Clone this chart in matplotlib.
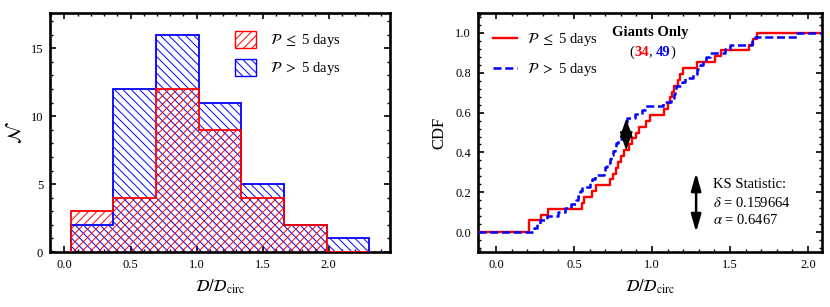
import numpy as np
import matplotlib
matplotlib.use("Agg")
import matplotlib.pyplot as plt
from matplotlib.patches import Patch
from matplotlib.lines import Line2D
from matplotlib.ticker import MultipleLocator, FormatStrFormatter

plt.rcParams['font.family'] = ['Liberation Serif', 'DejaVu Serif']
plt.rcParams['mathtext.fontset'] = 'stix'
plt.rcParams['hatch.linewidth'] = 0.7

# ---------------- data ----------------
bin_edges = [0.047, 0.370, 0.693, 1.016, 1.339, 1.662, 1.985, 2.308]
counts_short = [3, 4, 12, 9, 4, 2, 0]      # P <= 5 days (34)
counts_long = [2, 12, 16, 11, 5, 2, 1]     # P > 5 days (49)

cdf_short = [0.21, 0.21, 0.29, 0.335, 0.55, 0.565, 0.615, 0.64, 0.73, 0.75,
             0.77, 0.785, 0.80, 0.82, 0.85, 0.87, 0.90, 0.92, 0.96, 0.99,
             1.08, 1.10, 1.115, 1.13, 1.14, 1.165, 1.18, 1.20, 1.29, 1.405,
             1.44, 1.62, 1.65, 1.67]
cdf_long = [0.245, 0.26, 0.28, 0.325, 0.40, 0.44, 0.48, 0.51, 0.525, 0.54,
            0.55, 0.60, 0.615, 0.635, 0.69, 0.70, 0.715, 0.73, 0.74, 0.75,
            0.76, 0.77, 0.78, 0.81, 0.82, 0.83, 0.835, 0.84, 0.89, 0.935,
            0.955, 1.07, 1.125, 1.14, 1.15, 1.155, 1.19, 1.21, 1.265, 1.29,
            1.31, 1.33, 1.345, 1.37, 1.47, 1.50, 1.64, 1.66, 1.93]

label_short = r'$\mathcal{P}$ $\leq$ 5 days'
label_long = r'$\mathcal{P}$ $>$ 5 days'
n_short, n_long = 34, 49
ks_delta, ks_alpha = 0.159664, 0.6467
ks_x, ks_lo, ks_hi = 0.835, 0.41, 0.57
xlab = r'$\mathcal{D}/\mathcal{D}_{\mathrm{circ}}$'

red = (1, 0, 0)
blue = (0, 0, 1)
hatch_r = '////'
hatch_b = '\\\\\\\\'

fig = plt.figure(figsize=(8.3, 3.07), dpi=100)
ax1 = fig.add_axes([0.0602, 0.179, 0.4098, 0.7787])
ax2 = fig.add_axes([0.5759, 0.179, 0.4145, 0.7787])

def style(ax):
    for s in ax.spines.values():
        s.set_linewidth(1.9)
    ax.tick_params(which='both', direction='in', top=True, right=True,
                   labelsize=9, pad=5)
    ax.tick_params(which='major', length=4, width=1.2)
    ax.tick_params(which='minor', length=2, width=1.0)

# ---------------- histogram ----------------
ax1.stairs(counts_long, bin_edges, fill=True, facecolor='none',
           edgecolor=blue, hatch=hatch_b, linewidth=0, zorder=2)
ax1.stairs(counts_short, bin_edges, fill=True, facecolor='none',
           edgecolor=red, hatch=hatch_r, linewidth=0, zorder=2)
ax1.stairs(counts_long, bin_edges, color=blue, linewidth=1.3, zorder=3)
ax1.stairs(counts_short, bin_edges, color=red, linewidth=1.3, zorder=3)
ax1.set_xlim(-0.11, 2.466)
ax1.set_ylim(0, 17.6)
ax1.xaxis.set_major_locator(MultipleLocator(0.5))
ax1.xaxis.set_minor_locator(MultipleLocator(0.1))
ax1.yaxis.set_major_locator(MultipleLocator(5))
ax1.yaxis.set_minor_locator(MultipleLocator(1))
ax1.xaxis.set_major_formatter(FormatStrFormatter('%.1f'))
style(ax1)
ax1.set_xlabel(xlab, fontsize=12, labelpad=5)
ax1.set_ylabel(r'$\mathcal{N}$', fontsize=14, labelpad=4)

handles1 = [Patch(facecolor='none', edgecolor=red, hatch=hatch_r, linewidth=1.0),
            Patch(facecolor='none', edgecolor=blue, hatch=hatch_b, linewidth=1.0)]
ax1.legend(handles1, [label_short, label_long], loc='upper left',
           bbox_to_anchor=(0.544, 0.925), frameon=False, fontsize=10.5,
           borderaxespad=0, borderpad=0, handlelength=1.45, handleheight=1.4,
           labelspacing=0.65, handletextpad=0.95)

# ---------------- CDF ----------------
def ecdf_xy(vals, lo, hi):
    v = np.sort(np.asarray(vals, dtype=float))
    n = len(v)
    x = np.concatenate([[lo], v, [hi]])
    y = np.concatenate([[0.0], np.arange(1, n + 1) / n, [1.0]])
    return x, y

xr, yr = ecdf_xy(cdf_short, -0.115, 2.09)
xb, yb = ecdf_xy(cdf_long, -0.115, 2.09)
ax2.step(xr, yr, where='post', color=red, linewidth=1.7, zorder=3)
ax2.step(xb, yb, where='post', color=blue, linewidth=1.8,
         dashes=(3.2, 1.5), zorder=4)
ax2.set_xlim(-0.115, 2.09)
ax2.set_ylim(-0.1, 1.1)
ax2.xaxis.set_major_locator(MultipleLocator(0.5))
ax2.xaxis.set_minor_locator(MultipleLocator(0.1))
ax2.yaxis.set_major_locator(MultipleLocator(0.2))
ax2.yaxis.set_minor_locator(MultipleLocator(0.04))
ax2.xaxis.set_major_formatter(FormatStrFormatter('%.1f'))
ax2.yaxis.set_major_formatter(FormatStrFormatter('%.1f'))
style(ax2)
ax2.set_xlabel(xlab, fontsize=12, labelpad=5)
ax2.set_ylabel('CDF', fontsize=12, labelpad=6)

handles2 = [Line2D([], [], color=red, linewidth=1.7),
            Line2D([], [], color=blue, linewidth=1.8, dashes=(3.2, 1.5))]
ax2.legend(handles2, [label_short, label_long], loc='upper left',
           bbox_to_anchor=(0.045, 0.925), frameon=False, fontsize=10.5,
           borderaxespad=0, borderpad=0, handlelength=1.6,
           labelspacing=0.9, handletextpad=0.7)

# KS arrow at maximum separation
ax2.annotate('', xy=(ks_x, ks_hi), xytext=(ks_x, ks_lo),
             arrowprops=dict(arrowstyle='<|-|>,head_length=1.15,head_width=0.4',
                             color='k', lw=1.2, shrinkA=0, shrinkB=0,
                             mutation_scale=10), zorder=6)
ax2.annotate('', xy=(1.283, 0.297), xytext=(1.283, 0.0),
             arrowprops=dict(arrowstyle='<|-|>,head_length=1.05,head_width=0.3',
                             color='k', lw=1.8, shrinkA=0, shrinkB=0,
                             mutation_scale=10), zorder=6)

ax2.text(0.99, 1.0, 'Giants Only', fontsize=10.5, fontweight='bold',
         ha='center', va='center')
t0 = ax2.text(0.855, 0.905, '(', fontsize=10.5, ha='left', va='center')
t1 = ax2.annotate(str(n_short), xycoords=t0, xy=(1, 0), va='bottom',
                  fontsize=10.5, fontweight='bold', color=red)
t2 = ax2.annotate(', ', xycoords=t1, xy=(1, 0), va='bottom', fontsize=10.5)
t3 = ax2.annotate(str(n_long), xycoords=t2, xy=(1, 0), va='bottom',
                  fontsize=10.5, fontweight='bold', color=blue)
ax2.annotate(')', xycoords=t3, xy=(1, 0), va='bottom', fontsize=10.5)

ax2.text(1.39, 0.238, 'KS Statistic:', fontsize=10.5, ha='left', va='center')
ax2.text(1.39, 0.146, r'$\delta$ = %.6f' % ks_delta, fontsize=10.5,
         ha='left', va='center')
ax2.text(1.39, 0.059, r'$\alpha$ = %.4f' % ks_alpha, fontsize=10.5,
         ha='left', va='center')

fig.savefig('out.png', dpi=100)
